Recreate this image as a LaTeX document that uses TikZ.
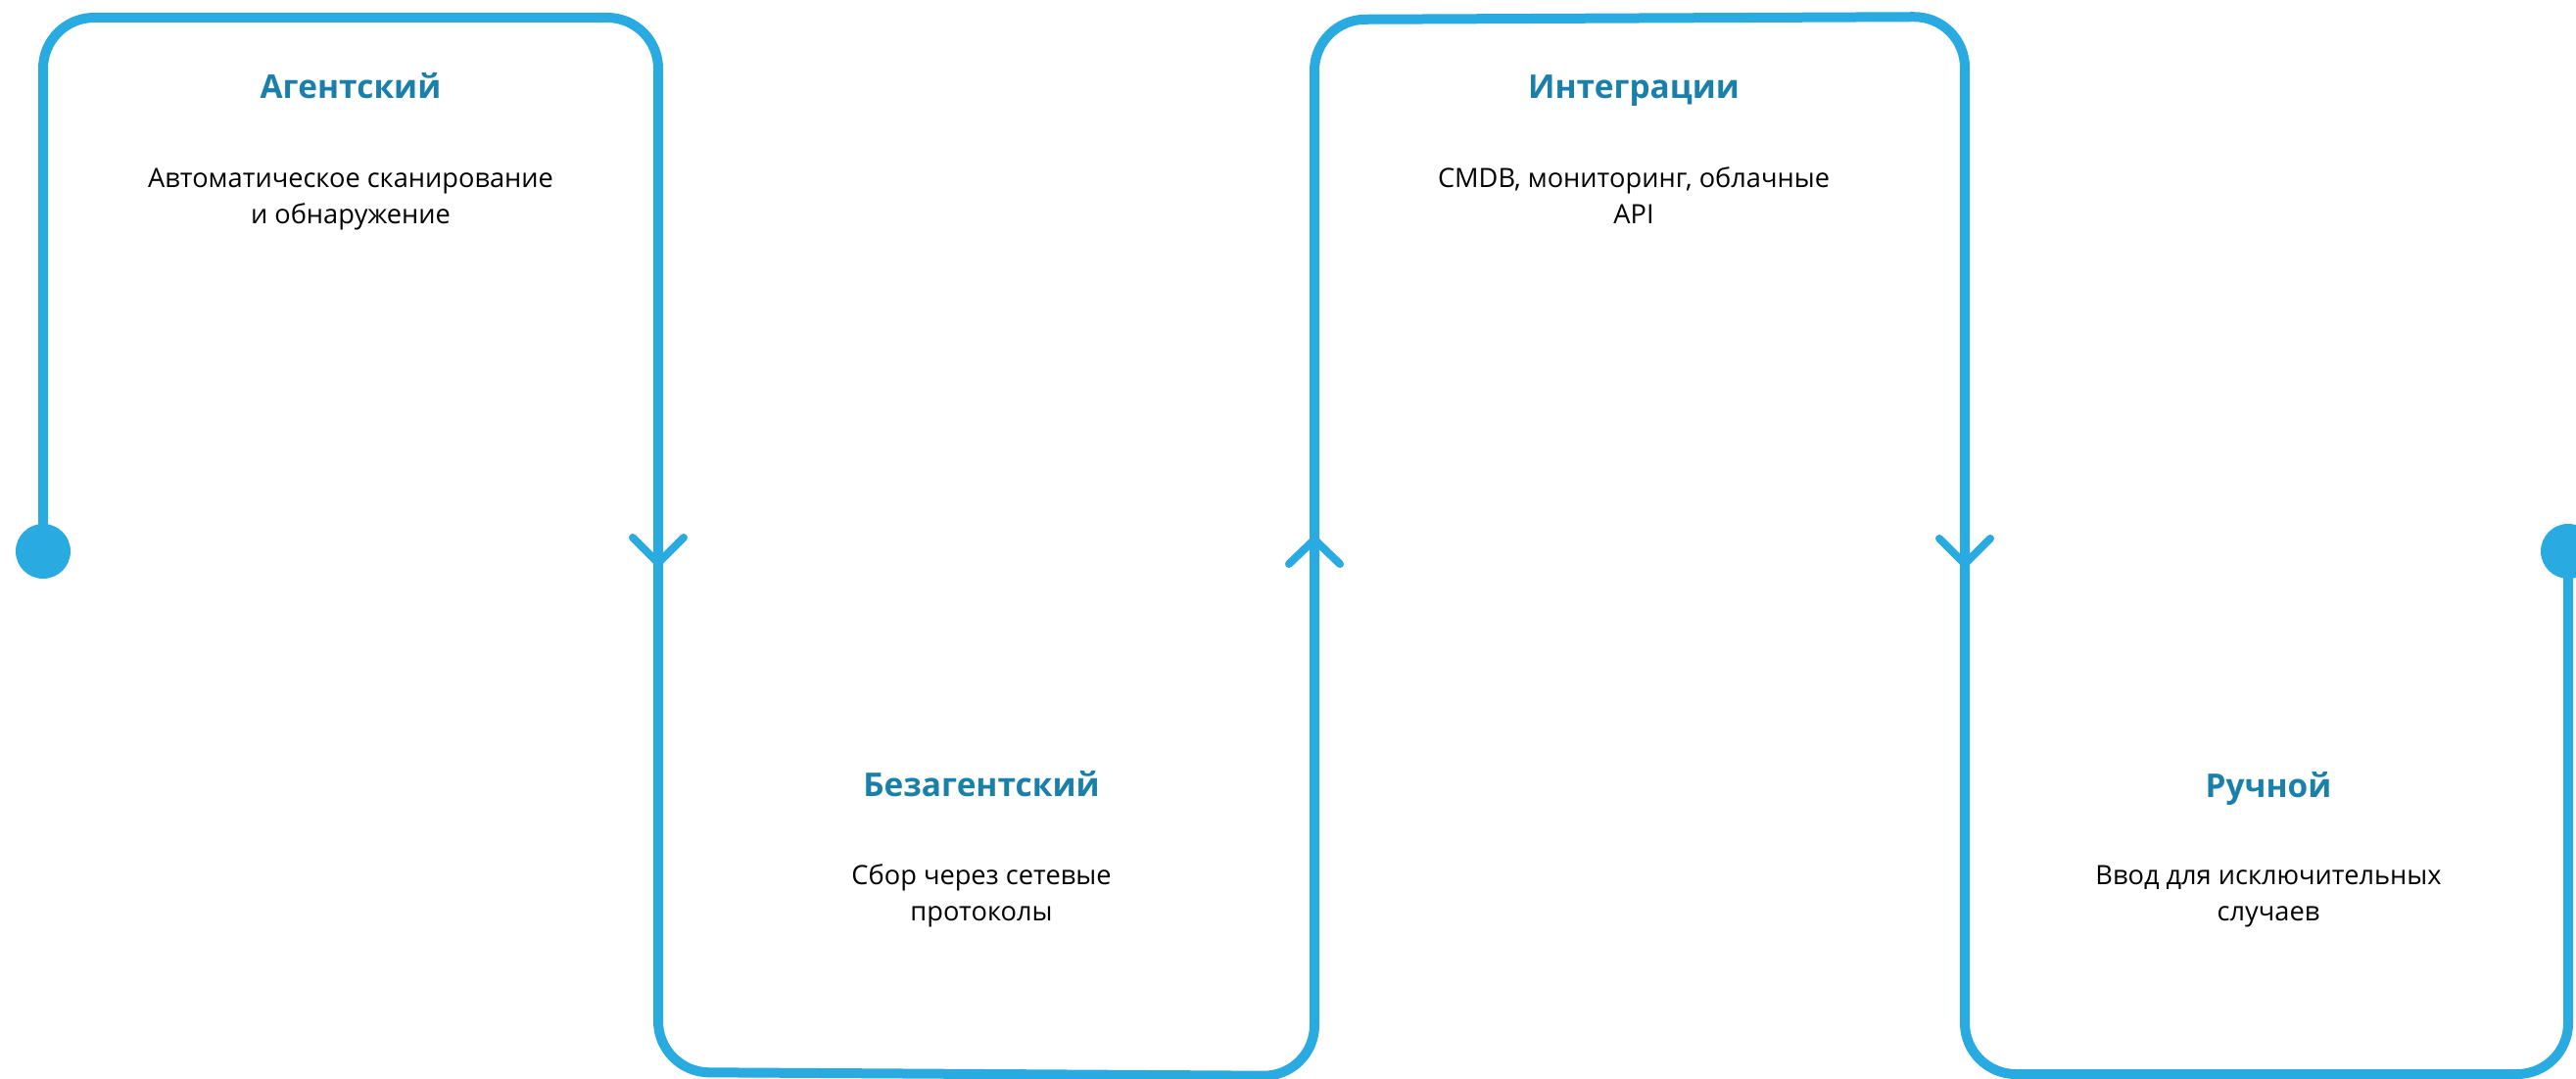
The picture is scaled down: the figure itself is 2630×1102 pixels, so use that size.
\documentclass[tikz,border=0pt]{standalone}
\usepackage{fontspec}
\setmainfont{Open Sans}
\usetikzlibrary{calc}
\definecolor{lineblue}{RGB}{41,171,226}
\definecolor{titleblue}{RGB}{26,128,170}
\begin{document}
\begin{tikzpicture}[x=0.5pt,y=-0.5pt,
  flow/.style={draw=lineblue, line width=5pt, rounded corners=26pt},
  chev/.style={draw=lineblue, line width=4pt, line cap=round, line join=round},
  dotnode/.style={circle, fill=lineblue, minimum size=28pt, inner sep=0pt},
  ttl/.style={font=\bfseries\fontsize{16.7}{20}\selectfont, text=titleblue, anchor=base, inner sep=0pt},
  body/.style={font=\fontsize{13.6}{18.5}\selectfont, align=center, anchor=base, inner sep=0pt}]
\useasboundingbox (0,0) rectangle (2630,1102);
% path points
\coordinate (start) at (44,563);
\coordinate (c1) at (44,18);
\coordinate (c2) at (672,18);
\coordinate (c3) at (672,1095);
\coordinate (c4) at (1342,1099);
\coordinate (c5) at (1342,20);
\coordinate (c6) at (2006,17);
\coordinate (c7) at (2006,1097);
\coordinate (c8) at (2622,1097);
\coordinate (end) at (2622,563);
\draw[flow] (start) -- (c1) -- (c2) -- (c3) -- (c4) -- (c5) -- (c6) -- (c7) -- (c8) -- (end);
% dots
\node[dotnode] (sdot) at (start) {};
\node[dotnode] (edot) at (end) {};
% arrow tips
\coordinate (a1) at (672,575);
\coordinate (a2) at (1342,551);
\coordinate (a3) at (2006,576);
\draw[chev] ($(a1)+(-26,-26)$) -- (a1) -- ($(a1)+(26,-26)$);
\draw[chev] ($(a2)+(-26,25)$) -- (a2) -- ($(a2)+(26,25)$);
\draw[chev] ($(a3)+(-26,-26)$) -- (a3) -- ($(a3)+(26,-26)$);
% texts
\node[ttl] (t1) at (358,101) {Агентский};
\node[body] (b1) at (358,228) {Автоматическое сканирование\\и обнаружение};
\node[ttl] (t2) at (1002,813) {Безагентский};
\node[body] (b2) at (1002,940) {Сбор через сетевые\\протоколы};
\node[ttl] (t3) at (1668,101) {Интеграции};
\node[body] (b3) at (1668,228) {CMDB, мониторинг, облачные\\API};
\node[ttl] (t4) at (2316,814) {Ручной};
\node[body] (b4) at (2316,940) {Ввод для исключительных\\случаев};
\end{tikzpicture}
\end{document}
